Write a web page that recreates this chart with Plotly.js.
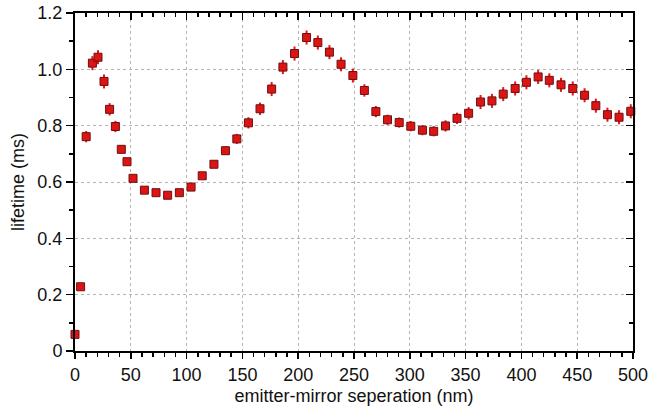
<!DOCTYPE html>
<html>
<head>
<meta charset="utf-8">
<script src="https://cdn.plot.ly/plotly-3.0.1.min.js"></script>
<style>html,body{margin:0;padding:0;background:#fff;}#chart{width:649px;height:412px;}</style>
</head>
<body>
<div id="chart"></div>
<script>
const separation = [0, 5, 10, 15.6, 20.6, 26, 31, 36.2, 41.5, 46.6, 52, 62.2, 72.6, 83, 93.5, 104, 114,
  124.5, 134.8, 145, 155.4, 165.8, 176.2, 186.3, 196.7, 207.5, 217.6, 228, 238.4,
  249, 259.3, 269.6, 280, 290.5, 300.9, 311.3, 321.4, 332, 342.3, 352.7, 363.4,
  373.6, 383.7, 394.4, 404.5, 415, 425, 435.5, 446, 456.6, 466.7, 477.1, 487.5, 498];
const lifetime = [0.059, 0.228, 0.761, 1.022, 1.043, 0.957, 0.858, 0.797, 0.716, 0.672, 0.613, 0.571, 0.562, 0.553, 0.562, 0.582, 0.622,
  0.663, 0.711, 0.753, 0.81, 0.86, 0.93, 1.008, 1.056, 1.113, 1.095, 1.061, 1.018,
  0.978, 0.925, 0.85, 0.821, 0.811, 0.798, 0.784, 0.78, 0.799, 0.826, 0.844, 0.884,
  0.888, 0.912, 0.932, 0.954, 0.973, 0.961, 0.945, 0.932, 0.908, 0.871, 0.839, 0.83, 0.851];
const lifetimeErr = [0.005, 0.005, 0.02, 0.025, 0.025, 0.025, 0.022, 0.02, 0.015, 0.012, 0.008, 0.008, 0.008, 0.008, 0.008, 0.008, 0.01,
  0.012, 0.015, 0.018, 0.02, 0.022, 0.025, 0.025, 0.025, 0.025, 0.025, 0.025, 0.025,
  0.025, 0.022, 0.02, 0.018, 0.018, 0.018, 0.018, 0.018, 0.02, 0.02, 0.022, 0.025,
  0.025, 0.025, 0.025, 0.025, 0.025, 0.025, 0.025, 0.025, 0.025, 0.025, 0.025, 0.025, 0.025];
const xTickVals = [0, 50, 100, 150, 200, 250, 300, 350, 400, 450, 500];
const xTickText = ['0', '50', '100', '150', '200', '250', '300', '350', '400', '450', '500'];
const yTickVals = [0, 0.2, 0.4, 0.6, 0.8, 1.0, 1.2];
const yTickText = ['0', '0.2', '0.4', '0.6', '0.8', '1.0', '1.2'];

const font = {family: 'Liberation Sans, Arial, sans-serif', size: 18, color: '#111'};

const trace = {
  x: separation, y: lifetime, type: 'scatter', mode: 'markers',
  error_y: {type: 'data', array: lifetimeErr, visible: true, color: '#e8161a', thickness: 2, width: 0},
  marker: {symbol: 'square', size: 8, color: '#dc1414', line: {color: '#6e1010', width: 1}},
  cliponaxis: false, showlegend: false
};

const layout = {
  width: 649, height: 412,
  margin: {l: 75, r: 16, t: 13, b: 61},
  paper_bgcolor: '#fff', plot_bgcolor: '#fff',
  font: font,
  xaxis: {
    range: [0, 500], tickvals: xTickVals, ticktext: xTickText,
    ticks: 'outside', ticklen: 6, tickwidth: 1.5, tickcolor: '#000',
    minor: {dtick: 10, tick0: 0, ticks: 'outside', ticklen: 4, tickwidth: 1.5, tickcolor: '#000', showgrid: false},
    showline: true, linecolor: '#000', linewidth: 2,
    showgrid: true, gridcolor: '#b4b4b4', griddash: 'dot', gridwidth: 1,
    zeroline: false, tickfont: font,
    title: {text: 'emitter-mirror seperation (nm)', font: font, standoff: 6}
  },
  yaxis: {
    range: [0, 1.2], tickvals: yTickVals, ticktext: yTickText,
    ticks: 'outside', ticklen: 7, tickwidth: 1.5, tickcolor: '#000',
    minor: {dtick: 0.1, tick0: 0, ticks: 'outside', ticklen: 4, tickwidth: 1.5, tickcolor: '#000', showgrid: false},
    showline: true, linecolor: '#000', linewidth: 2,
    showgrid: true, gridcolor: '#b4b4b4', griddash: 'dot', gridwidth: 1,
    zeroline: false, tickfont: font,
    title: {text: 'lifetime (ms)', font: font, standoff: 8}
  },
  xaxis2: {
    overlaying: 'x', side: 'top', range: [0, 500], tickvals: xTickVals,
    showticklabels: false, ticks: 'inside', ticklen: 7, tickwidth: 1.5, tickcolor: '#000',
    minor: {dtick: 10, tick0: 0, ticks: 'inside', ticklen: 4, tickwidth: 1.5, tickcolor: '#000', showgrid: false},
    showline: true, linecolor: '#000', linewidth: 2, showgrid: false, zeroline: false
  },
  yaxis2: {
    overlaying: 'y', side: 'right', range: [0, 1.2], tickvals: yTickVals,
    showticklabels: false, ticks: 'inside', ticklen: 7, tickwidth: 1.5, tickcolor: '#000',
    minor: {dtick: 0.1, tick0: 0, ticks: 'inside', ticklen: 4, tickwidth: 1.5, tickcolor: '#000', showgrid: false},
    showline: true, linecolor: '#000', linewidth: 2, showgrid: false, zeroline: false
  }
};

const dummy = {x: [null], y: [null], xaxis: 'x2', yaxis: 'y2', type: 'scatter', mode: 'markers', showlegend: false, hoverinfo: 'skip'};

Plotly.newPlot('chart', [trace, dummy], layout, {displayModeBar: false, staticPlot: true});
</script>
</body>
</html>
